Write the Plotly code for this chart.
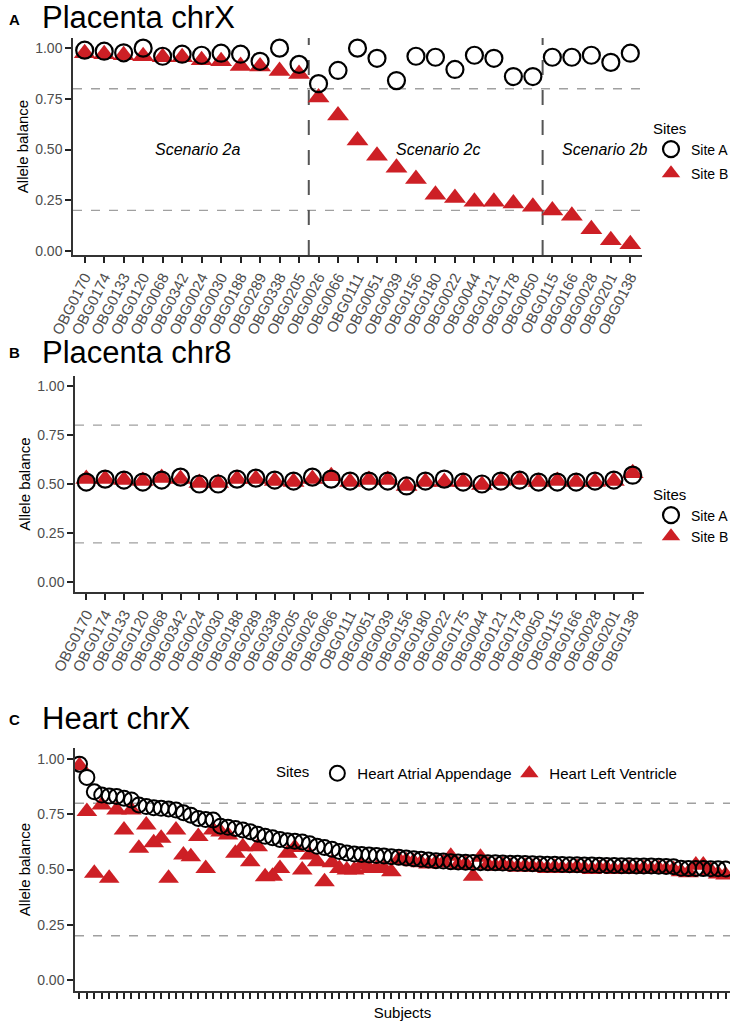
import plotly.graph_objects as go

W, H = 734, 1022
RED = "#CD1F25"

# ---------------- Panel A data ----------------
a_labels = ["OBG0170", "OBG0174", "OBG0133", "OBG0120", "OBG0068", "OBG0342", "OBG0024",
            "OBG0030", "OBG0188", "OBG0289", "OBG0338", "OBG0205", "OBG0026", "OBG0066",
            "OBG0111", "OBG0051", "OBG0039", "OBG0156", "OBG0180", "OBG0022", "OBG0044",
            "OBG0121", "OBG0178", "OBG0050", "OBG0115", "OBG0166", "OBG0028", "OBG0201",
            "OBG0138"]
a_site_a = [0.99, 0.985, 0.977, 1.00, 0.96, 0.97, 0.965, 0.975, 0.97, 0.935, 1.00, 0.92,
            0.825, 0.89, 1.00, 0.95, 0.84, 0.96, 0.955, 0.895, 0.965, 0.95, 0.86, 0.86,
            0.955, 0.955, 0.965, 0.93, 0.975]
a_site_b = [0.975, 0.97, 0.965, 0.96, 0.955, 0.955, 0.94, 0.935, 0.912, 0.91, 0.887, 0.873,
            0.756, 0.668, 0.545, 0.47, 0.41, 0.355, 0.277, 0.261, 0.243, 0.243, 0.234, 0.218,
            0.20, 0.173, 0.107, 0.053, 0.033]
a_scenarios = ["Scenario 2a", "Scenario 2c", "Scenario 2b"]
a_scenario_pos = [5.8, 18.15, 26.7]
a_boundaries = [11.5, 23.5]

# ---------------- Panel B data ----------------
b_labels = ["OBG0170", "OBG0174", "OBG0133", "OBG0120", "OBG0068", "OBG0342", "OBG0024",
            "OBG0030", "OBG0188", "OBG0289", "OBG0338", "OBG0205", "OBG0026", "OBG0066",
            "OBG0111", "OBG0051", "OBG0039", "OBG0156", "OBG0180", "OBG0022", "OBG0175",
            "OBG0044", "OBG0121", "OBG0178", "OBG0050", "OBG0115", "OBG0166", "OBG0028",
            "OBG0201", "OBG0138"]
b_site_a = [0.51, 0.525, 0.52, 0.51, 0.52, 0.535, 0.50, 0.50, 0.525, 0.53, 0.52, 0.515,
            0.535, 0.525, 0.515, 0.515, 0.515, 0.49, 0.515, 0.525, 0.51, 0.50, 0.515, 0.52,
            0.51, 0.51, 0.51, 0.515, 0.52, 0.545]
b_site_b = [0.525, 0.525, 0.52, 0.515, 0.53, 0.525, 0.505, 0.505, 0.525, 0.525, 0.515, 0.51,
            0.525, 0.54, 0.51, 0.52, 0.52, 0.49, 0.51, 0.51, 0.51, 0.495, 0.515, 0.52,
            0.51, 0.515, 0.51, 0.51, 0.515, 0.555]

# ---------------- Panel C data ----------------
c_atrial = [0.977, 0.917, 0.852, 0.837, 0.833, 0.831, 0.823, 0.815, 0.792, 0.785,
            0.780, 0.777, 0.774, 0.769, 0.757, 0.746, 0.731, 0.726, 0.724, 0.696,
            0.691, 0.686, 0.679, 0.671, 0.660, 0.650, 0.644, 0.636, 0.630, 0.628,
            0.625, 0.616, 0.605, 0.600, 0.592, 0.582, 0.575, 0.570, 0.568, 0.566,
            0.563, 0.561, 0.558, 0.555, 0.552, 0.549, 0.546, 0.543, 0.540, 0.538,
            0.535, 0.534, 0.533, 0.532, 0.531, 0.531, 0.530, 0.529, 0.528, 0.528,
            0.527, 0.526, 0.525, 0.524, 0.524, 0.523, 0.522, 0.521, 0.520, 0.520,
            0.519, 0.518, 0.518, 0.517, 0.517, 0.516, 0.516, 0.516, 0.515, 0.514,
            0.513, 0.506, 0.505, 0.505, 0.504, 0.503, 0.503, 0.502]
c_ventricle = [0.970, 0.762, 0.483, 0.792, 0.460, 0.769, 0.679, 0.769, 0.596, 0.701,
               0.621, 0.641, 0.460, 0.679, 0.566, 0.558, 0.649, 0.505, 0.679, 0.670,
               0.656, 0.573, 0.603, 0.535, 0.603, 0.467, 0.470, 0.505, 0.573, 0.600,
               0.498, 0.566, 0.535, 0.445, 0.530, 0.505, 0.498, 0.498, 0.520, 0.505,
               0.505, 0.505, 0.490, 0.545, 0.540, 0.535, 0.530, 0.525, 0.530, 0.530,
               0.560, 0.520, 0.525, 0.470, 0.555, 0.520, 0.515, 0.520, 0.515, 0.510,
               0.515, 0.510, 0.510, 0.505, 0.510, 0.505, 0.505, 0.510, 0.505, 0.500,
               0.505, 0.505, 0.500, 0.500, 0.505, 0.500, 0.505, 0.500, 0.505, 0.500,
               0.500, 0.490, 0.485, 0.520, 0.520, 0.495, 0.480, 0.475]
c_subjects = list(range(1, len(c_atrial) + 1))

y_ticks = [0, 0.25, 0.5, 0.75, 1.0]
y_ticktext = ["0.00", "0.25", "0.50", "0.75", "1.00"]
thresholds = [0.2, 0.8]


def px_x(p):
    return p / W


def px_y(p):
    return 1 - p / H


FONT = "Liberation Sans, Arial, sans-serif"
TICKFONT = dict(family=FONT, size=14, color="#4D4D4D")
XTICKFONT = dict(family=FONT, size=15, color="#4D4D4D")

fig = go.Figure()

circle_a = dict(symbol="circle-open", size=17, color="black", line=dict(width=2.2, color="black"))
tri_b = dict(symbol="triangle-up", size=19, color=RED, line=dict(width=0))

# Panel A
fig.add_trace(go.Scatter(x=a_labels, y=a_site_b, mode="markers", name="Site B", marker=tri_b,
                         xaxis="x", yaxis="y", legend="legend", legendrank=2, legendgroup="aB"))
fig.add_trace(go.Scatter(x=a_labels, y=a_site_a, mode="markers", name="Site A", marker=circle_a,
                         xaxis="x", yaxis="y", legend="legend", legendrank=1, legendgroup="aA"))
# Panel B
fig.add_trace(go.Scatter(x=b_labels, y=b_site_b, mode="markers", name="Site B", marker=tri_b,
                         xaxis="x2", yaxis="y2", legend="legend2", legendrank=2))
fig.add_trace(go.Scatter(x=b_labels, y=b_site_a, mode="markers", name="Site A", marker=circle_a,
                         xaxis="x2", yaxis="y2", legend="legend2", legendrank=1))
# Panel C
fig.add_trace(go.Scatter(x=c_subjects, y=c_ventricle, mode="markers", name="Heart Left Ventricle",
                         marker=dict(symbol="triangle-up", size=18, color=RED, line=dict(width=0)),
                         xaxis="x3", yaxis="y3", legend="legend3", legendrank=2))
fig.add_trace(go.Scatter(x=c_subjects, y=c_atrial, mode="markers", name="Heart Atrial Appendage",
                         marker=dict(symbol="circle-open", size=15, color="black",
                                     line=dict(width=2, color="black")),
                         xaxis="x3", yaxis="y3", legend="legend3", legendrank=1))

shapes = []
for yref, xref in [("y", "x"), ("y2", "x2"), ("y3", "x3")]:
    for t in thresholds:
        shapes.append(dict(type="line", xref=xref + " domain", yref=yref, x0=0, x1=1, y0=t, y1=t,
                           line=dict(color="#A0A0A0", width=1.4, dash="dash"), layer="below"))
for b in a_boundaries:
    shapes.append(dict(type="line", xref="x", yref="y domain", x0=b, x1=b, y0=0, y1=1,
                       line=dict(color="#555555", width=2, dash="longdash"), layer="below"))

annotations = []
for s, p in zip(a_scenarios, a_scenario_pos):
    annotations.append(dict(x=p, y=0.5, xref="x", yref="y", text="<i>%s</i>" % s, showarrow=False,
                            font=dict(family=FONT, size=16, color="black")))
for letter, title, ypx in [("A", "Placenta chrX", 18), ("B", "Placenta chr8", 352), ("C", "Heart chrX", 718)]:
    annotations.append(dict(x=px_x(7), y=px_y(ypx + 1), xref="paper", yref="paper", text="<b>%s</b>" % letter,
                            showarrow=False, xanchor="left", yanchor="middle",
                            font=dict(family=FONT, size=15, color="black")))
    annotations.append(dict(x=px_x(40), y=px_y(ypx), xref="paper", yref="paper", text=title,
                            showarrow=False, xanchor="left", yanchor="middle",
                            font=dict(family=FONT, size=31, color="black")))

common_y = dict(tickvals=y_ticks, ticktext=y_ticktext, tickfont=TICKFONT, showgrid=False, zeroline=False,
                showline=True, linecolor="#333333", linewidth=1.5, ticks="outside", ticklen=6,
                tickwidth=2, tickcolor="#222222", automargin=False,
                title=dict(text="Allele balance", font=dict(family=FONT, size=15, color="black"), standoff=3))
common_x = dict(showgrid=False, zeroline=False, showline=True, linecolor="#333333", linewidth=1.5,
                ticks="outside", ticklen=6, tickwidth=2, tickcolor="#222222", tickfont=XTICKFONT,
                automargin=False)

legend_common = dict(font=dict(family=FONT, size=14, color="black"), bgcolor="rgba(0,0,0,0)",
                     title=dict(text="Sites", font=dict(family=FONT, size=15, color="black")),
                     xanchor="right", yanchor="top", itemclick=False, itemdoubleclick=False)

fig.update_layout(
    width=W, height=H, margin=dict(l=0, r=0, t=0, b=0, autoexpand=False),
    paper_bgcolor="white", plot_bgcolor="white",
    font=dict(family=FONT),
    xaxis=dict(common_x, domain=[px_x(73), px_x(642)], anchor="y", type="category",
               range=[-0.6, len(a_labels) - 0.4], tickangle=-63),
    yaxis=dict(common_y, domain=[px_y(255), px_y(38)], anchor="x", range=[-0.02, 1.05]),
    xaxis2=dict(common_x, domain=[px_x(75), px_x(644)], anchor="y2", type="category",
                range=[-0.6, len(b_labels) - 0.4], tickangle=-63),
    yaxis2=dict(common_y, domain=[px_y(592), px_y(376)], anchor="x2", range=[-0.05, 1.05]),
    xaxis3=dict(common_x, domain=[px_x(75), px_x(730)], anchor="y3",
                range=[0.4, len(c_subjects) + 0.6], tickvals=c_subjects, showticklabels=False,
                title=dict(text="Subjects", font=dict(family=FONT, size=15, color="black"), standoff=10)),
    yaxis3=dict(common_y, domain=[px_y(991), px_y(748)], anchor="x3", range=[-0.05, 1.05]),
    legend=dict(legend_common, x=1, y=px_y(114), tracegroupgap=3),
    legend2=dict(legend_common, x=1, y=px_y(480)),
    legend3=dict(legend_common, x=px_x(274), xanchor="left", y=px_y(757), orientation="h",
                 font=dict(family=FONT, size=15, color="black"), entrywidth=147,
                 title=dict(text="Sites", side="left", font=dict(family=FONT, size=15, color="black"))),
    shapes=shapes,
    annotations=annotations,
)

fig.write_html("out.html", config={"displayModeBar": False},
               post_script="document.body.style.margin='0px';")
